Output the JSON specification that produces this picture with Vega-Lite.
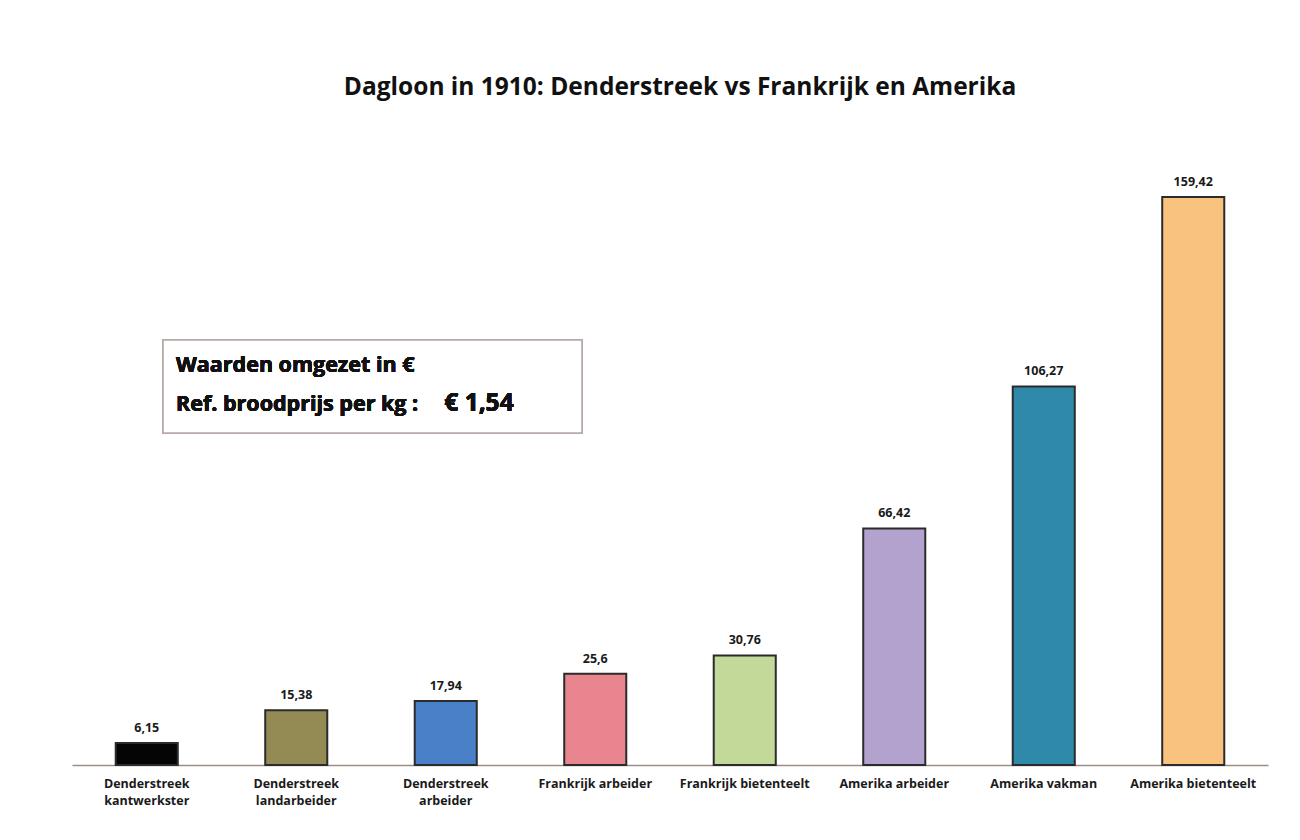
{
  "$schema": "https://vega.github.io/schema/vega-lite/v6.json",
  "width": 1196,
  "height": 570,
  "autosize": {"type": "none"},
  "padding": {"left": 72, "top": 195, "right": 32, "bottom": 75},
  "background": "white",
  "title": {
    "text": "Dagloon in 1910: Denderstreek vs Frankrijk en Amerika",
    "font": "Open Sans",
    "fontSize": 24.5,
    "fontWeight": "bold",
    "color": "#111111",
    "anchor": "middle",
    "offset": 76,
    "dx": 10
  },
  "config": {
    "view": {"stroke": null},
    "locale": {
      "number": {"decimal": ",", "thousands": ".", "grouping": [3], "currency": ["€", ""]}
    }
  },
  "data": {
    "values": [
      {"groep": "Denderstreek kantwerkster", "loon": 6.15},
      {"groep": "Denderstreek landarbeider", "loon": 15.38},
      {"groep": "Denderstreek arbeider", "loon": 17.94},
      {"groep": "Frankrijk arbeider", "loon": 25.6},
      {"groep": "Frankrijk bietenteelt", "loon": 30.76},
      {"groep": "Amerika arbeider", "loon": 66.42},
      {"groep": "Amerika vakman", "loon": 106.27},
      {"groep": "Amerika bietenteelt", "loon": 159.42}
    ]
  },
  "layer": [
    {
      "layer": [
        {
          "mark": {"type": "bar", "stroke": "#2b2b2b", "strokeWidth": 2},
          "encoding": {
            "x": {
              "field": "groep",
              "type": "nominal",
              "sort": null,
              "scale": {"paddingInner": 0.585, "paddingOuter": 0.2925},
              "axis": {
                "title": null,
                "labelAngle": 0,
                "labelFont": "Open Sans",
                "labelFontSize": 12.5,
                "labelFontWeight": "bold",
                "labelColor": "#1a1a1a",
                "labelPadding": 12,
                "labelLineHeight": 17,
                "labelExpr": "indexof(datum.value, 'Denderstreek') == 0 ? split(datum.value, ' ') : datum.value",
                "ticks": false,
                "domainColor": "#9a8f88",
                "domainWidth": 1.5,
                "grid": false
              }
            },
            "y": {
              "field": "loon",
              "type": "quantitative",
              "scale": {"domain": [0, 160], "nice": false},
              "axis": null
            },
            "color": {
              "field": "groep",
              "type": "nominal",
              "sort": null,
              "legend": null,
              "scale": {
                "domain": ["Denderstreek kantwerkster", "Denderstreek landarbeider", "Denderstreek arbeider", "Frankrijk arbeider", "Frankrijk bietenteelt", "Amerika arbeider", "Amerika vakman", "Amerika bietenteelt"],
                "range": ["#050505", "#948a54", "#4a80c8", "#e9858e", "#c3d99a", "#b3a2cd", "#2e8aa8", "#f9c27e"]
              }
            }
          }
        },
        {
          "mark": {"type": "text", "baseline": "bottom", "dy": -8, "font": "Open Sans", "fontSize": 12.5, "fontWeight": "bold", "color": "#1a1a1a"},
          "encoding": {
            "x": {"field": "groep", "type": "nominal", "sort": null},
            "y": {"field": "loon", "type": "quantitative"},
            "text": {"field": "loon", "type": "quantitative", "format": ".2~f"}
          }
        }
      ]
    },
    {
      "layer": [
        {
          "mark": {"type": "rect", "fill": "white", "stroke": "#b7aaa8", "strokeWidth": 1.5},
          "encoding": {
            "x": {"datum": 0.609, "type": "quantitative", "scale": {"domain": [0, 8], "nice": false}, "axis": null},
            "x2": {"datum": 3.411},
            "y": {"datum": 119.3, "type": "quantitative"},
            "y2": {"datum": 93.2}
          }
        },
        {
          "mark": {"type": "text", "align": "left", "baseline": "alphabetic", "font": "Open Sans", "fontSize": 21.5, "fontWeight": "bold", "color": "#111111", "text": "Waarden omgezet in €"},
          "encoding": {
            "x": {"datum": 0.696, "type": "quantitative", "axis": null},
            "y": {"datum": 110.2, "type": "quantitative"}
          }
        },
        {
          "mark": {"type": "text", "align": "left", "baseline": "alphabetic", "font": "Open Sans", "fontSize": 21.5, "fontWeight": "bold", "color": "#111111", "text": "Ref. broodprijs per kg :"},
          "encoding": {
            "x": {"datum": 0.696, "type": "quantitative", "axis": null},
            "y": {"datum": 99.3, "type": "quantitative"}
          }
        },
        {
          "mark": {"type": "text", "align": "left", "baseline": "alphabetic", "font": "Open Sans", "fontSize": 24.5, "fontWeight": "bold", "color": "#111111", "text": "€ 1,54"},
          "encoding": {
            "x": {"datum": 2.49, "type": "quantitative", "axis": null},
            "y": {"datum": 99.3, "type": "quantitative"}
          }
        }
      ]
    }
  ],
  "resolve": {"scale": {"x": "independent"}}
}
